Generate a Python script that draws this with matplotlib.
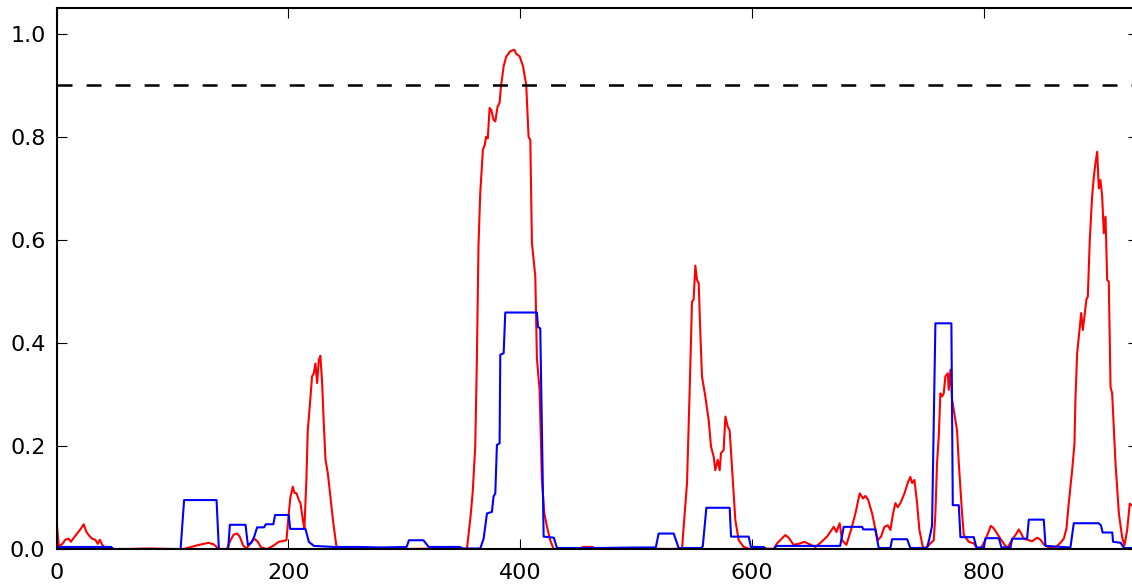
import matplotlib
matplotlib.use("Agg")
import matplotlib.pyplot as plt

# ---- data ----
red_x = [0, 1.8, 4.7, 7.5, 10.4, 12.4, 14.2, 17.6, 21.1, 23.4, 25.7, 27.7, 30.6, 33.4, 35.5,
         37.2, 39.2, 42, 44, 60, 80, 100, 109.7, 121, 131, 135.6, 140, 147, 150, 152.8,
         155.7, 158, 160.9, 163.8, 167.2, 170.7, 173.6, 176.4, 181.6, 186.8, 191.7, 198.3,
         200.3, 201.7, 203.8, 205.2, 207, 209, 210.4, 212.7, 213.8, 215.5, 216.7, 218.4,
         220.4, 221.9, 223.3, 224.8, 226.2, 227.6, 229.1, 230.5, 232, 234, 236.3, 238.6,
         241.5, 243.4, 270, 300, 330, 352, 354, 357, 359, 361.2, 362.6, 364, 365.5, 367.8,
         369.5, 370.5, 372, 373.6, 375, 377, 378.5, 380.5, 382.2, 383.4, 385.7, 388, 391.4,
         394.9, 396.6, 399.5, 402.4, 405.2, 407.2, 408.7, 410.1, 413, 414.4, 416.7, 418.7,
         420.8, 423.1, 425.9, 428.8, 450, 455, 462, 466, 500, 530, 539.6, 543.9, 546.2,
         548.2, 549.6, 551.1, 552.5, 554, 555.4, 556.8, 559.7, 562.6, 564.6, 566.9, 568.3,
         570.4, 572.1, 573.2, 575.5, 577, 579, 580.7, 583.6, 585.6, 588.5, 592.8, 598.5,
         610, 618.7, 621.6, 628.7, 631.6, 635.9, 641.7, 645.1, 648.9, 654.6, 659, 664.7,
         670.5, 672.8, 675.6, 677.7, 681.4, 685.4, 689.2, 692.9, 695.8, 697.8, 700.1,
         703.6, 708.4, 711.3, 714.2, 717.1, 719.4, 721.7, 723.7, 725.7, 728, 731.5, 734.3,
         736.6, 738.1, 740.1, 742.4, 744.4, 747.3, 750.2, 753.9, 756.8, 758.2, 759.6,
         761.1, 762.5, 764, 765.4, 766.8, 768.9, 769.7, 771.2, 772.6, 775.5, 776.9, 778.4,
         781.2, 782.7, 787, 791.3, 794.2, 797.1, 801.4, 806, 808.5, 810, 814.3, 818.6,
         820.6, 824.4, 828.1, 830.1, 832.2, 834.5, 837.3, 841.6, 846, 848.8, 851.7, 856,
         861.8, 866.1, 869, 871.3, 873.3, 876.2, 878.2, 879, 880.5, 882.8, 884, 885.4,
         886.8, 888.5, 889.7, 891.4, 893.4, 894.9, 896.3, 897.8, 899.2, 900.6, 902.1,
         903.5, 905, 906.4, 907.8, 909.3, 910.7, 913.6, 916.5, 919.3, 921.3, 923.6, 925.9,
         927.4, 933]
red_y = [0.053, 0.007, 0.009, 0.018, 0.02, 0.014, 0.02, 0.03, 0.04, 0.048, 0.033, 0.027, 0.02,
         0.018, 0.01, 0.018, 0.009, 0.001, 0.0, 0.0, 0.001, 0.0, 0.0, 0.007, 0.012, 0.009,
         0.0, 0.0, 0.017, 0.028, 0.03, 0.024, 0.007, 0.001, 0.011, 0.02, 0.014, 0.003, 0.0,
         0.006, 0.014, 0.017, 0.069, 0.1, 0.121, 0.109, 0.108, 0.095, 0.089, 0.053, 0.04,
         0.134, 0.231, 0.276, 0.335, 0.341, 0.36, 0.322, 0.367, 0.375, 0.322, 0.244, 0.173,
         0.147, 0.1, 0.053, 0.004, 0.0, 0.001, 0.0, 0.001, 0.0, 0.0, 0.06, 0.11, 0.2, 0.367,
         0.59, 0.69, 0.775, 0.785, 0.8, 0.797, 0.856, 0.852, 0.833, 0.83, 0.859, 0.866, 0.898,
         0.937, 0.956, 0.966, 0.969, 0.961, 0.956, 0.937, 0.9, 0.8, 0.794, 0.594, 0.529, 0.37,
         0.309, 0.134, 0.069, 0.043, 0.017, 0.0, 0.001, 0.004, 0.004, 0.0, 0.001, 0.0, 0.001,
         0.128, 0.309, 0.48, 0.484, 0.55, 0.522, 0.516, 0.419, 0.335, 0.296, 0.25, 0.199,
         0.179, 0.153, 0.173, 0.153, 0.186, 0.192, 0.257, 0.238, 0.23, 0.128, 0.056, 0.017,
         0.004, 0.0, 0.001, 0.0, 0.011, 0.027, 0.022, 0.008, 0.011, 0.014, 0.01, 0.004,
         0.012, 0.024, 0.043, 0.033, 0.05, 0.017, 0.008, 0.037, 0.069, 0.108, 0.098, 0.103,
         0.096, 0.069, 0.017, 0.024, 0.043, 0.046, 0.037, 0.069, 0.089, 0.081, 0.089, 0.108,
         0.128, 0.14, 0.128, 0.134, 0.089, 0.037, 0.004, 0.002, 0.011, 0.017, 0.069, 0.166,
         0.218, 0.302, 0.296, 0.302, 0.335, 0.341, 0.309, 0.348, 0.29, 0.25, 0.23, 0.166,
         0.069, 0.027, 0.014, 0.011, 0.001, 0.0, 0.018, 0.045, 0.04, 0.035, 0.02, 0.006,
         0.003, 0.018, 0.03, 0.038, 0.03, 0.02, 0.018, 0.015, 0.022, 0.018, 0.009, 0.003,
         0.003, 0.012, 0.02, 0.04, 0.09, 0.153, 0.205, 0.289, 0.38, 0.432, 0.458, 0.425,
         0.451, 0.484, 0.49, 0.6, 0.684, 0.723, 0.749, 0.771, 0.7, 0.716, 0.684, 0.613,
         0.645, 0.522, 0.519, 0.315, 0.302, 0.166, 0.069, 0.023, 0.007, 0.036, 0.088, 0.085,
         0.08]

blue_x = [0, 47, 49, 107, 110, 138, 140, 148, 149.5, 163, 165, 168, 170.5, 173, 179, 180.5,
          187, 188.5, 200.3, 201.5, 214.7, 217.6, 222, 239, 260, 280, 302, 304, 316.5, 321,
          348, 350, 365.5, 368.4, 371.3, 375.6, 377, 378.5, 379.9, 382.2, 382.8, 385.7,
          387.1, 414.4, 415.3, 417.3, 420.2, 429, 431.7, 470, 500, 517, 519.4, 532.4, 536.7,
          556, 557.5, 560.6, 580.7, 581.9, 597.1, 599, 610, 612, 619, 621, 676, 679.1, 695,
          696, 706.4, 709.3, 719.4, 720.8, 733.8, 736.6, 751, 753, 755.3, 758.2, 772, 773.2,
          778.4, 779.8, 791.3, 793.6, 800, 801.4, 812.9, 815.2, 823, 824.4, 837.3, 838.8,
          851.7, 853.2, 874.7, 877.6, 899, 901, 902.5, 910.8, 911.5, 918, 921, 933]
blue_y = [0.004, 0.004, 0.0, 0.0, 0.095, 0.095, 0.0, 0.0, 0.047, 0.047, 0.008, 0.012, 0.024,
          0.042, 0.042, 0.048, 0.048, 0.066, 0.066, 0.039, 0.039, 0.014, 0.006, 0.004, 0.004,
          0.003, 0.004, 0.017, 0.017, 0.004, 0.004, 0.001, 0.001, 0.02, 0.069, 0.072, 0.102,
          0.108, 0.202, 0.205, 0.377, 0.38, 0.459, 0.459, 0.431, 0.428, 0.024, 0.022, 0.002,
          0.002, 0.003, 0.003, 0.03, 0.03, 0.002, 0.002, 0.005, 0.08, 0.08, 0.024, 0.024,
          0.004, 0.004, 0.0, 0.0, 0.006, 0.006, 0.043, 0.043, 0.038, 0.038, 0.002, 0.002,
          0.019, 0.019, 0.002, 0.002, 0.02, 0.045, 0.438, 0.438, 0.085, 0.085, 0.023, 0.023,
          0.003, 0.003, 0.021, 0.021, 0.003, 0.003, 0.02, 0.02, 0.057, 0.057, 0.006, 0.003,
          0.05, 0.05, 0.046, 0.032, 0.032, 0.014, 0.012, 0.002, 0.002]

threshold = 0.9
x_ticks = [0, 200, 400, 600, 800]
y_ticks = [0.0, 0.2, 0.4, 0.6, 0.8, 1.0]
x_limits = (0, 933)
y_limits = (0, 1.05)

# ---- drawing ----
plt.rcParams['font.family'] = ['DejaVu Sans']
plt.rcParams['lines.scale_dashes'] = False

W, H = 1132, 586
fig = plt.figure(figsize=(W / 100, H / 100), dpi=100, facecolor='white')
ax = fig.add_axes([56.6 / W, 37 / H, (1138 - 56.6) / W, 541 / H])

ax.plot(red_x, red_y, color='#ff0000', linewidth=1.5)
ax.plot(blue_x, blue_y, color='#0000ff', linewidth=1.5)
ax.axhline(threshold, color='black', linewidth=1.8, linestyle=(0, (10.8, 10.1)))

ax.set_xlim(*x_limits)
ax.set_ylim(*y_limits)
ax.set_xticks(x_ticks)
ax.set_yticks(y_ticks)
ax.set_yticklabels([f"{v:.1f}" for v in y_ticks])

ax.tick_params(direction='in', top=True, right=True, length=7.5, width=0.8,
               labelsize=16, colors='black')
ax.tick_params(axis='x', pad=10)
ax.tick_params(axis='y', pad=8)
for s in ax.spines.values():
    s.set_linewidth(1.5)
    s.set_color('black')

fig.savefig('out.png', dpi=100, facecolor='white')
